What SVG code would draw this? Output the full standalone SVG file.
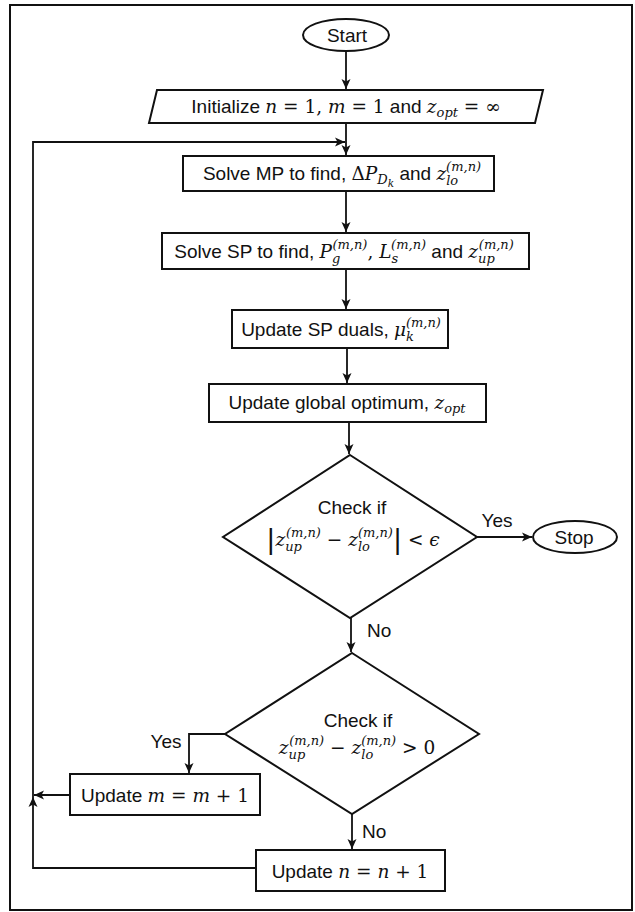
<svg xmlns="http://www.w3.org/2000/svg" width="635" height="912" viewBox="0 0 635 912">
<style>
.shape{fill:#fff;stroke:#111;stroke-width:2}
.frame{fill:#fff;stroke:#111;stroke-width:2}
.conn{fill:none;stroke:#111;stroke-width:1.8}
.t{font-family:"Liberation Sans",Arial,sans-serif;font-size:19px;fill:#111}
.mi{font-family:"DejaVu Serif",serif;font-style:italic;font-size:18.5px}
.mr{font-family:"DejaVu Serif",serif;font-size:18.5px}
.ms{font-family:"DejaVu Serif",serif;font-style:italic;font-size:13px}
.mss{font-family:"DejaVu Serif",serif;font-style:italic;font-size:10.5px}
.bar{font-family:"DejaVu Sans",sans-serif;font-size:27px}
</style>
<defs>
<marker id="ah" markerUnits="userSpaceOnUse" markerWidth="12" markerHeight="10" refX="10" refY="5" orient="auto">
<path d="M0,0.5 L10,5 L0,9.5 L2.5,5 z" fill="#111"/>
</marker>
</defs>
<rect class="frame" x="10" y="5" width="622" height="905"/>
<g id="connectors">
<path class="conn" d="M346,51 V89" marker-end="url(#ah)"/>
<path class="conn" d="M346,123 V155" marker-end="url(#ah)"/>
<path class="conn" d="M346,191 V232" marker-end="url(#ah)"/>
<path class="conn" d="M346,269 V309" marker-end="url(#ah)"/>
<path class="conn" d="M347,348 V383" marker-end="url(#ah)"/>
<path class="conn" d="M349,422 V454" marker-end="url(#ah)"/>
<path class="conn" d="M351,618 V652" marker-end="url(#ah)"/>
<path class="conn" d="M477,537 H532" marker-end="url(#ah)"/>
<path class="conn" d="M225,734 H189 V773" marker-end="url(#ah)"/>
<path class="conn" d="M352,814 V849" marker-end="url(#ah)"/>
<path class="conn" d="M70,795 H34" marker-end="url(#ah)"/>
<path class="conn" d="M256,868 H33 V797" marker-end="url(#ah)"/>
<path class="conn" d="M33,797 V142 H345" marker-end="url(#ah)"/>
<text class="t" x="497" y="527" text-anchor="middle">Yes</text>
<text class="t" x="367" y="637">No</text>
<text class="t" x="166" y="748" text-anchor="middle">Yes</text>
<text class="t" x="362" y="838">No</text>
</g>
<g id="start">
<ellipse class="shape" cx="346" cy="35" rx="43" ry="16"/>
<text class="t" x="347" y="42" text-anchor="middle">Start</text>
</g>
<g id="init">
<polygon class="shape" points="157,90 543,90 535,123 149,123"/>
<text class="t" x="346" y="113" text-anchor="middle">Initialize <tspan class="mi">n</tspan><tspan class="mr"> = 1, </tspan><tspan class="mi">m</tspan><tspan class="mr"> = 1</tspan> and <tspan class="mi">z</tspan><tspan class="ms" dy="4">opt</tspan><tspan class="mr" dy="-4"> = ∞</tspan></text>
</g>
<g id="solve-mp">
<rect class="shape" x="183" y="156" width="311" height="35"/>
<text class="t" x="342" y="180" text-anchor="middle">Solve MP to find, <tspan class="mr">Δ</tspan><tspan class="mi">P</tspan><tspan class="ms" dy="4">D</tspan><tspan class="mss" dy="3">k</tspan><tspan dy="-7"> and </tspan><tspan class="mi">z</tspan><tspan class="ms" dy="5">lo</tspan><tspan class="ms" dx="-12" dy="-14">(m,n)</tspan></text>
</g>
<g id="solve-sp">
<rect class="shape" x="162" y="233" width="367" height="36"/>
<text class="t" x="344" y="258" text-anchor="middle">Solve SP to find, <tspan class="mi">P</tspan><tspan class="ms" dy="5">g</tspan><tspan class="ms" dx="-8" dy="-14">(m,n)</tspan><tspan class="mr" dy="9">, </tspan><tspan class="mi">L</tspan><tspan class="ms" dy="5">s</tspan><tspan class="ms" dx="-7" dy="-14">(m,n)</tspan><tspan dy="9"> and </tspan><tspan class="mi">z</tspan><tspan class="ms" dy="5">up</tspan><tspan class="ms" dx="-16" dy="-14">(m,n)</tspan></text>
</g>
<g id="update-duals">
<rect class="shape" x="232" y="310" width="216" height="38"/>
<text class="t" x="341" y="336" text-anchor="middle">Update SP duals, <tspan class="mi">μ</tspan><tspan class="ms" dy="5">k</tspan><tspan class="ms" dx="-8" dy="-14">(m,n)</tspan></text>
</g>
<g id="update-global">
<rect class="shape" x="209" y="384" width="277" height="38"/>
<text class="t" x="347" y="409" text-anchor="middle">Update global optimum, <tspan class="mi">z</tspan><tspan class="ms" dy="4">opt</tspan></text>
</g>
<g id="check-converge">
<polygon class="shape" points="350,455 477,537 350,618 223,537"/>
<text class="t" x="352" y="514" text-anchor="middle">Check if</text>
<text class="t" x="353" y="546" text-anchor="middle"><tspan class="bar" dy="2">|</tspan><tspan class="mi" dy="-2">z</tspan><tspan class="ms" dy="5">up</tspan><tspan class="ms" dx="-16" dy="-14">(m,n)</tspan><tspan class="mr" dy="9"> − </tspan><tspan class="mi">z</tspan><tspan class="ms" dy="5">lo</tspan><tspan class="ms" dx="-12" dy="-14">(m,n)</tspan><tspan class="bar" dy="11">|</tspan><tspan class="mr" dy="-2"> &lt; </tspan><tspan class="mi">ϵ</tspan></text>
</g>
<g id="stop">
<ellipse class="shape" cx="575" cy="537" rx="42" ry="16"/>
<text class="t" x="574" y="544" text-anchor="middle">Stop</text>
</g>
<g id="check-sign">
<polygon class="shape" points="352,653 479,734 352,814 225,734"/>
<text class="t" x="358" y="727" text-anchor="middle">Check if</text>
<text class="t" x="357" y="754" text-anchor="middle"><tspan class="mi">z</tspan><tspan class="ms" dy="5">up</tspan><tspan class="ms" dx="-16" dy="-14">(m,n)</tspan><tspan class="mr" dy="9"> − </tspan><tspan class="mi">z</tspan><tspan class="ms" dy="5">lo</tspan><tspan class="ms" dx="-12" dy="-14">(m,n)</tspan><tspan class="mr" dy="9"> &gt; 0</tspan></text>
</g>
<g id="update-m">
<rect class="shape" x="70" y="774" width="190" height="41"/>
<text class="t" x="165" y="802" text-anchor="middle">Update <tspan class="mi">m</tspan><tspan class="mr"> = </tspan><tspan class="mi">m</tspan><tspan class="mr"> + 1</tspan></text>
</g>
<g id="update-n">
<rect class="shape" x="256" y="850" width="189" height="41"/>
<text class="t" x="350" y="878" text-anchor="middle">Update <tspan class="mi">n</tspan><tspan class="mr"> = </tspan><tspan class="mi">n</tspan><tspan class="mr"> + 1</tspan></text>
</g>
</svg>
